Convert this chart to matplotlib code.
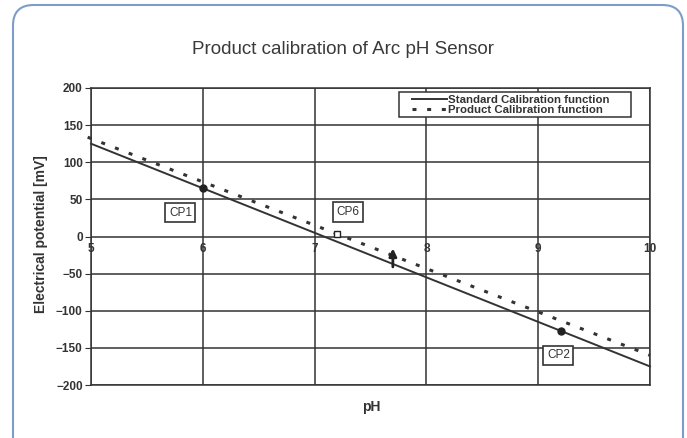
import numpy as np
import matplotlib.pyplot as plt
from matplotlib.patches import FancyBboxPatch, Rectangle

# data
ph_range = [5, 10]
standard_mv = [125, -175]
product_mv = [132, -160]

cp_names = ["CP1", "CP6", "CP2"]
cp_ph = [6.0, 7.2, 9.2]
cp_mv = [65, 4, -127]
cp_label_ph = [5.8, 7.3, 9.18]
cp_label_mv = [32, 33, -160]

arrow_ph = 7.7
arrow_mv = [-41, -16]

x_ticks = [5, 6, 7, 8, 9, 10]
y_ticks = [-200, -150, -100, -50, 0, 50, 100, 150, 200]

plt.rcParams['font.family'] = ['Liberation Sans', 'DejaVu Sans']

fig = plt.figure(figsize=(6.87, 4.38), dpi=100)

# rounded frame around the whole chart
border = FancyBboxPatch((13 / 687, -0.05), 670 / 687, 1.05 - 5 / 438,
                        boxstyle="round,pad=0,rounding_size=0.03",
                        transform=fig.transFigure, facecolor="none",
                        edgecolor="#7f9cc8", linewidth=1.5, mutation_aspect=687 / 438,
                        zorder=-5)
fig.patches.append(border)

fig.text(343 / 687, 1 - 50 / 438, "Product calibration of Arc pH Sensor",
         ha="center", va="center", fontsize=13.5, color="#3a3a3a",
         family=["Liberation Sans"])

ax = fig.add_axes([91 / 687, 1 - 385 / 438, 559 / 687, 297 / 438])
ax.set_xlim(ph_range[0], ph_range[1])
ax.set_ylim(-200, 200)

line_col = "#333333"
ax.set_yticks(y_ticks)
ax.set_xticks(x_ticks)
ax.grid(True, color=line_col, linewidth=1.1)
for s in ax.spines.values():
    s.set_color(line_col)
    s.set_linewidth(1.1)
ax.tick_params(axis="y", length=4, color=line_col, labelsize=8.5, pad=2)
ax.tick_params(axis="x", length=0, labelbottom=False)
for lab in ax.get_yticklabels():
    lab.set_fontweight("bold")
    lab.set_color("#333333")

# pH tick labels sit just under the 0 mV line
for t in x_ticks:
    ax.annotate(str(t), xy=(t, 0), xytext=(0, -5), textcoords="offset points",
                ha="center", va="top", fontsize=8.5, fontweight="bold", color="#333333")

ax.plot(ph_range, standard_mv, color="#333333", lw=1.4,
        label="Standard Calibration function", clip_on=False)
ax.plot([4.97, ph_range[1]], [product_mv[0] + 0.03 * (product_mv[0] - product_mv[1]) / 5, product_mv[1]],
        color="#333333", lw=2.2, linestyle=(0, (1.3, 3.5)),
        label="Product Calibration function", clip_on=False)

ax.plot([cp_ph[0], cp_ph[2]], [cp_mv[0], cp_mv[2]], "o", color="#222222", ms=5, zorder=5)
ax.plot(cp_ph[1], cp_mv[1], "s", mfc="white", mec="#222222", ms=5, mew=1, zorder=5)

for name, x, y in zip(cp_names, cp_label_ph, cp_label_mv):
    ax.text(x, y, name, ha="center", va="center", fontsize=8.5, color="#333333",
            bbox=dict(boxstyle="square,pad=0.3", fc="white", ec="#333333", lw=1.2))

ax.annotate("", xy=(arrow_ph, arrow_mv[1]), xytext=(arrow_ph, arrow_mv[0]),
            arrowprops=dict(arrowstyle="-|>,head_length=0.45,head_width=0.22",
                            color="#222222", lw=2, shrinkA=0, shrinkB=0))

# legend frame drawn by hand (wide side padding, tight rows)
ax.add_patch(Rectangle((0.551, 0.902), 0.415, 0.0845, transform=ax.transAxes,
                       fc="white", ec="#333333", lw=1.1, zorder=6))
leg = ax.legend(loc="center left", bbox_to_anchor=(0.575, 0.944), fontsize=8.2,
                frameon=False, borderpad=0, labelspacing=0.0,
                handlelength=3.0, handletextpad=0.1, borderaxespad=0)
leg.set_zorder(7)
for t in leg.get_texts():
    t.set_fontweight("bold")
    t.set_color("#333333")

fig.text(371 / 687, 1 - 407 / 438, "pH", ha="center", va="center",
         fontsize=10, fontweight="bold", color="#333333")
fig.text(41 / 687, 1 - 234 / 438, "Electrical potential [mV]", ha="center", va="center",
         rotation=90, fontsize=10, fontweight="bold", color="#333333")

fig.savefig("out.png", dpi=100)
